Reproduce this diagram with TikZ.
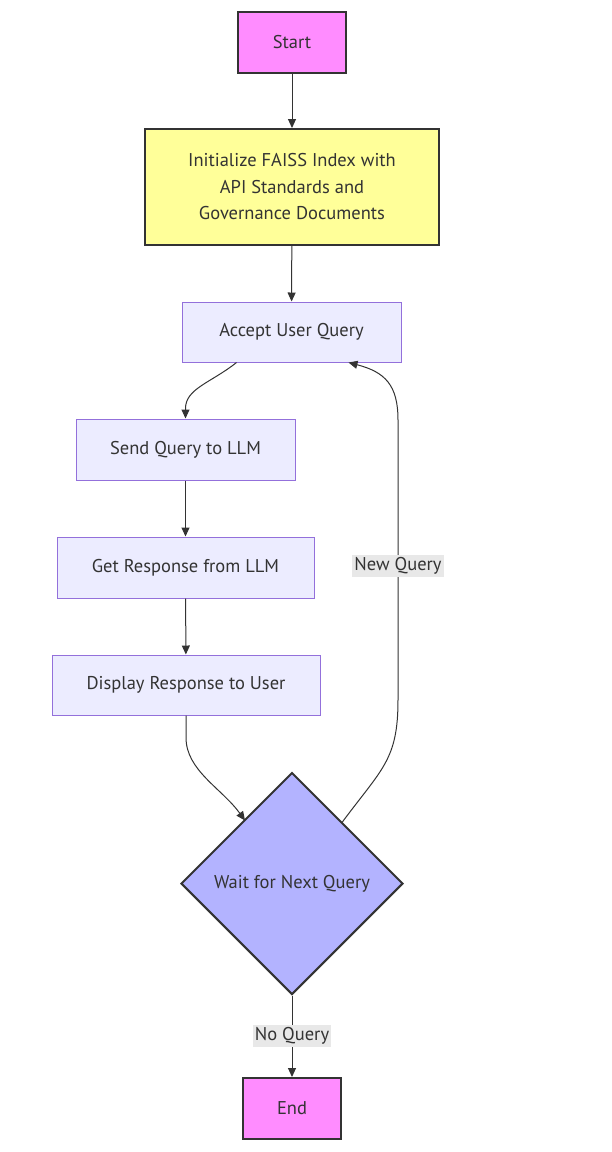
\documentclass[tikz,border=0pt]{standalone}
\usepackage{fontspec}
\setmainfont{PT Sans}
\usetikzlibrary{shapes.geometric,arrows.meta,calc}
\definecolor{pinkfill}{HTML}{FF8CFF}
\definecolor{yellowfill}{HTML}{FFFF99}
\definecolor{procfill}{HTML}{ECECFF}
\definecolor{procline}{HTML}{9370DB}
\definecolor{diafill}{HTML}{B3B3FF}
\definecolor{dark}{HTML}{333333}
\definecolor{lblbg}{HTML}{E8E8E8}
\tikzset{
  base/.style={font=\fontsize{18.5}{26.5}\selectfont, text=dark, align=center, inner sep=0pt},
  term/.style={base, draw=dark, line width=2pt, fill=pinkfill},
  initbox/.style={base, draw=dark, line width=2pt, fill=yellowfill},
  proc/.style={base, draw=procline, line width=1pt, fill=procfill},
  decide/.style={base, diamond, aspect=1, draw=dark, line width=2pt, fill=diafill, minimum width=222pt, minimum height=222pt},
  conn/.style={draw=dark, line width=1pt, -{Triangle[length=9pt,width=8pt]}},
  lbl/.style={base, fill=lblbg, inner xsep=2pt, inner ysep=3pt}
}
\begin{document}
\begin{tikzpicture}[x=1pt,y=-1pt]
\useasboundingbox (0,0) rectangle (611,1152);
\node[term, minimum width=108pt, minimum height=61pt] (start) at (292,42.5) {Start};
\node[initbox, minimum width=294pt, minimum height=116pt] (init) at (292,187) {Initialize FAISS Index with\\API Standards and\\Governance Documents};
\node[proc, minimum width=219pt, minimum height=60pt] (acc) at (291.5,332) {Accept User Query};
\node[proc, minimum width=219pt, minimum height=61pt] (send) at (185.5,449.5) {Send Query to LLM};
\node[proc, minimum width=257pt, minimum height=61pt] (get) at (185.5,567.5) {Get Response from LLM};
\node[proc, minimum width=268pt, minimum height=60pt] (disp) at (186,685) {Display Response to User};
\node[decide] (dia) at (292,883.5) {Wait for Next Query};
\node[term, minimum width=98pt, minimum height=61pt] (end) at (292,1108.5) {End};

\draw[conn] (start) -- (init);
\draw[conn] (init) -- (acc);
\draw[conn] ($(acc.south)+(-55,0)$) .. controls ($(acc.south)+(-80,20)$) and ($(send.north)+(0,-30)$) .. ($(send.north)+(0,-10)$) -- (send.north);
\draw[conn] (send) -- (get);
\draw[conn] (get) -- (disp);
\draw[conn] (disp.south) -- ++(0,22) .. controls ($(disp.south)+(0,55)$) and ($(dia.center)+(-70,-95)$) .. ($(dia.center)+(-47,-63)$);
\coordinate (nq) at (398,566);
\draw[conn] ($(dia.center)+(50,-61)$) .. controls ($(dia.center)+(90,-115)$) and (398,760) .. (398,700) -- (nq) -- (398,420) .. controls (398,385) and (385,372) .. ($(acc.south)+(57,0)$);
\node[lbl] at (nq) {New Query};
\draw[conn] (dia.south) -- (end.north);
\node[lbl] at (292,1036) {No Query};
\end{tikzpicture}
\end{document}
